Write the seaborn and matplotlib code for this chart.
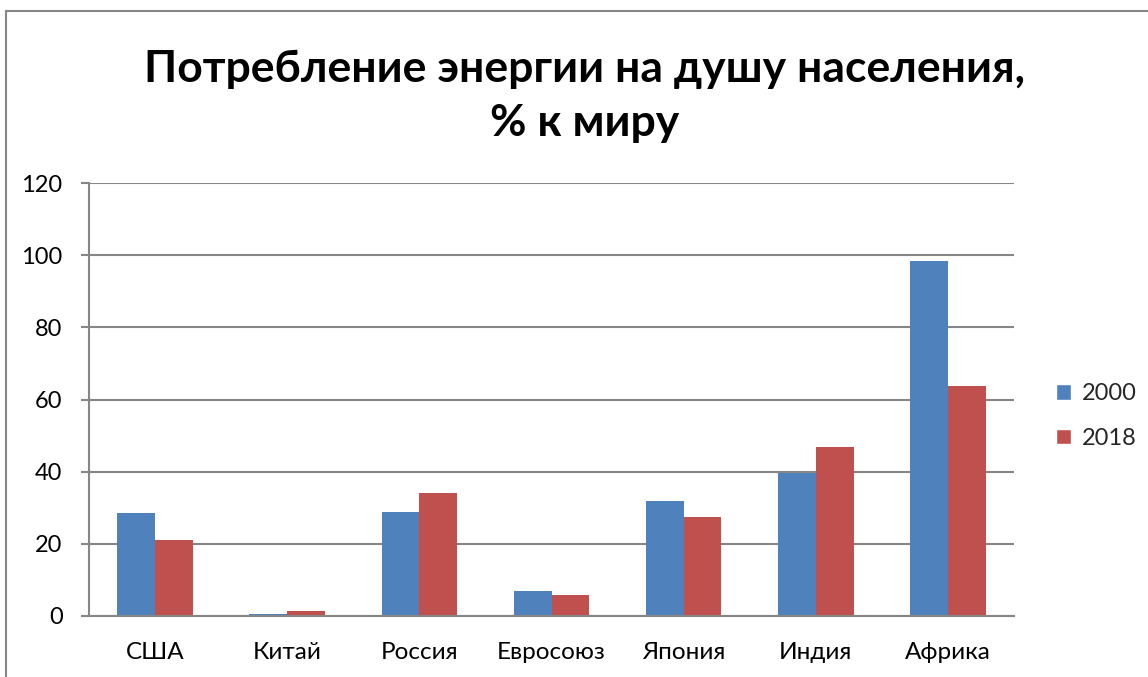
import numpy as np
import pandas as pd
import matplotlib.pyplot as plt
import seaborn as sns
from matplotlib.patches import Rectangle, Patch

# data
regions = ["США", "Китай", "Россия", "Евросоюз", "Япония", "Индия", "Африка"]
years = ["2000", "2018"]
values_2000 = [28.5, 0.5, 28.7, 6.9, 32.0, 39.5, 98.3]
values_2018 = [21.0, 1.4, 34.2, 5.9, 27.3, 46.9, 63.8]
colors = ["#4F81BD", "#C0504D"]
title = "Потребление энергии на душу населения,\n% к миру"

df = pd.DataFrame({
    "region": regions * 2,
    "year": [years[0]] * len(regions) + [years[1]] * len(regions),
    "value": values_2000 + values_2018,
})

sns.set_theme(style="white")
plt.rcParams["font.family"] = ["Lato", "DejaVu Sans"]
grid_c = "#868686"

W, H = 1148, 677
fig = plt.figure(figsize=(W / 100, H / 100), dpi=100)
ax = fig.add_axes([89 / W, (H - 616) / H, 925 / W, 433 / H])

sns.barplot(data=df, x="region", y="value", hue="year", palette=colors,
            width=0.571, gap=0, saturation=1, linewidth=0, ax=ax, legend=False)

ax.set_xlim(-0.5, len(regions) - 0.5)
ax.set_ylim(0, 120)
ax.set_yticks(range(0, 121, 20))
ax.yaxis.grid(True, color=grid_c, lw=1.5)
ax.set_axisbelow(True)
ax.set_xlabel("")
ax.set_ylabel("")

for s in ["top", "right"]:
    ax.spines[s].set_visible(False)
for s in ["left", "bottom"]:
    ax.spines[s].set_color(grid_c)
    ax.spines[s].set_linewidth(1.5)

ax.set_xticks(np.arange(-0.5, len(regions)), minor=True)
ax.tick_params(axis="x", which="minor", length=6, width=1.5, color=grid_c, direction="out")
ax.tick_params(axis="x", which="major", length=0, pad=19, labelsize=17.5, labelcolor="black")
ax.tick_params(axis="y", which="major", length=6, width=1.5, color=grid_c, direction="out",
               left=True, pad=13, labelsize=17, labelcolor="black")

handles = [Patch(facecolor=c, label=y) for c, y in zip(colors, years)]
fig.legend(handles=handles, loc="center left", bbox_to_anchor=(1056 / W, 1 - 416 / H),
           frameon=False, fontsize=17, handlelength=0.65, handleheight=0.65,
           handletextpad=0.45, labelspacing=1.0, borderpad=0, borderaxespad=0)

fig.text(585 / W, 1 - 96 / H, title, ha="center", va="center",
         fontsize=32, fontweight="bold", color="black", linespacing=1.45)

# chart frame, running off the right and bottom edge
fig.add_artist(Rectangle((6 / W, -0.1), 1.2, 1 - 11 / H + 0.1, transform=fig.transFigure,
                         fill=False, edgecolor=grid_c, lw=1.5))

fig.savefig("out.png", dpi=100)
